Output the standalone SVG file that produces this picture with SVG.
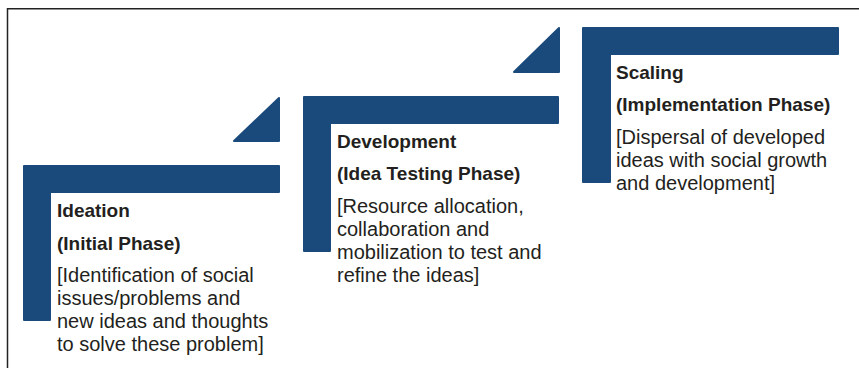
<svg xmlns="http://www.w3.org/2000/svg" width="859" height="368" viewBox="0 0 859 368">
  <style>
    .frame { fill: none; stroke: #222; stroke-width: 1.5; }
    .step { fill: #1a4a7c; stroke: #1a4a7c; stroke-width: 2; stroke-linejoin: round; }
    .title { font-family: "Liberation Sans", Arial, sans-serif; font-weight: bold; font-size: 19px; fill: #231f20; }
    .body { font-family: "Liberation Sans", Arial, sans-serif; font-size: 20px; fill: #231f20; }
  </style>
  <rect width="859" height="368" fill="#fff"/>
  <!-- open frame: left and top edges only -->
  <path class="frame" d="M7.5,368 V8.75 H859"/>

  <g id="connectors">
    <path class="step" d="M234,141 L279,98 L279,141 Z"/>
    <path class="step" d="M514,72 L559,28 L559,72 Z"/>
  </g>

  <g id="ideation">
    <path class="step" d="M24,166 H279 V192 H50 V320 H24 Z"/>
    <text class="title" x="57" y="217">Ideation</text>
    <text class="title" x="57" y="250">(Initial Phase)</text>
    <text class="body" x="57" y="282">[Identification of social</text>
    <text class="body" x="57" y="305">issues/problems and</text>
    <text class="body" x="57" y="328">new ideas and thoughts</text>
    <text class="body" x="57" y="351">to solve these problem]</text>
  </g>

  <g id="development">
    <path class="step" d="M304,97 H558 V123 H330 V251 H304 Z"/>
    <text class="title" x="337" y="148">Development</text>
    <text class="title" x="337" y="180">(Idea Testing Phase)</text>
    <text class="body" x="337" y="213">[Resource allocation,</text>
    <text class="body" x="337" y="236">collaboration and</text>
    <text class="body" x="337" y="259">mobilization to test and</text>
    <text class="body" x="337" y="282">refine the ideas]</text>
  </g>

  <g id="scaling">
    <path class="step" d="M583,28 H838 V54 H610 V182 H583 Z"/>
    <text class="title" x="616" y="79">Scaling</text>
    <text class="title" x="616" y="111">(Implementation Phase)</text>
    <text class="body" x="616" y="144">[Dispersal of developed</text>
    <text class="body" x="616" y="167">ideas with social growth</text>
    <text class="body" x="616" y="190">and development]</text>
  </g>
</svg>
